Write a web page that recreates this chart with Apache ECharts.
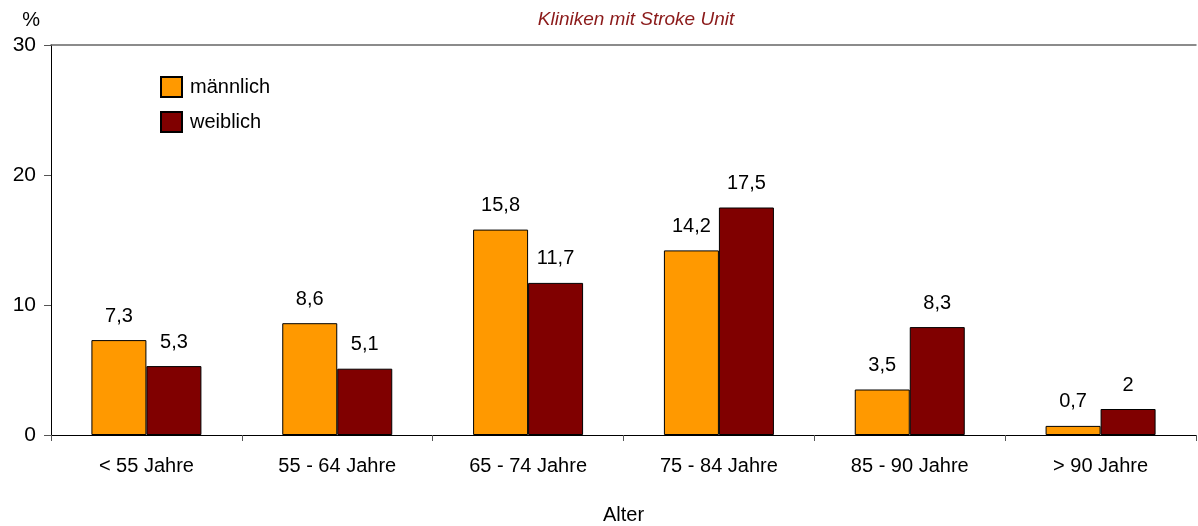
<!DOCTYPE html>
<html>
<head>
<meta charset="utf-8">
<script src="https://cdn.jsdelivr.net/npm/echarts@6/dist/echarts.min.js"></script>
<style>
  html, body { margin: 0; padding: 0; background: #fff; }
  #mychart { width: 1198px; height: 526px; }
</style>
</head>
<body>
<div id="mychart"></div>
<script>
// Daten
var categories = ['< 55 Jahre', '55 - 64 Jahre', '65 - 74 Jahre', '75 - 84 Jahre', '85 - 90 Jahre', '> 90 Jahre'];
var maennlich = [7.3, 8.6, 15.8, 14.2, 3.5, 0.7];
var weiblich = [5.3, 5.1, 11.7, 17.5, 8.3, 2];
var seriesNames = ['männlich', 'weiblich'];
var yTicks = [0, 10, 20, 30];

var fontFam = '"Liberation Sans", Arial, sans-serif';

function komma(p) {
  return String(p.value).replace('.', ',');
}

var myChart = echarts.init(document.getElementById('mychart'));
var option = {
  backgroundColor: '#fff',
  animation: false,
  textStyle: { fontFamily: fontFam },
  title: {
    text: 'Kliniken mit Stroke Unit',
    left: 631,
    textAlign: 'center',
    top: 5,
    textStyle: { color: '#8b1a1a', fontStyle: 'italic', fontWeight: 'normal', fontSize: 19, fontFamily: fontFam }
  },
  legend: {
    orient: 'vertical',
    left: 155,
    top: 71,
    itemWidth: 21,
    itemHeight: 20,
    itemGap: 13,
    icon: 'rect',
    textStyle: { fontSize: 20, color: '#000', fontFamily: fontFam, padding: [0, 0, 0, 3] },
    data: seriesNames
  },
  grid: { left: 51, right: 2, top: 45, bottom: 91, outerBoundsMode: 'none', containLabel: false },
  xAxis: [
    {
      type: 'category',
      data: categories,
      name: 'Alter',
      nameLocation: 'middle',
      nameGap: 70,
      nameTextStyle: { fontSize: 20, color: '#000' },
      axisLine: { lineStyle: { color: '#000', width: 1 } },
      axisTick: { show: true, length: 6, lineStyle: { color: '#555' } },
      axisLabel: { fontSize: 20, color: '#000', margin: 21 }
    },
    {
      type: 'category',
      data: categories,
      position: 'top',
      axisLine: { show: true, lineStyle: { color: '#666', width: 1.5 } },
      axisTick: { show: false },
      axisLabel: { show: false }
    }
  ],
  yAxis: {
    type: 'value',
    min: yTicks[0],
    max: yTicks[yTicks.length - 1],
    interval: 10,
    name: '%',
    nameLocation: 'end',
    nameGap: 15,
    nameTextStyle: { fontSize: 20, color: '#000', align: 'right', padding: [0, 11, 0, 0] },
    axisLine: { show: true, lineStyle: { color: '#000', width: 1 } },
    axisTick: { show: true, length: 7, lineStyle: { color: '#555' } },
    axisLabel: { fontSize: 21, color: '#000', margin: 15 },
    splitLine: { show: false }
  },
  series: [
    {
      name: seriesNames[0],
      type: 'bar',
      data: maennlich,
      barWidth: 55,
      barGap: '0%',
      itemStyle: { color: '#ff9900', borderColor: '#000', borderWidth: 1 },
      label: { show: true, position: 'top', distance: 14, fontSize: 20, color: '#000', formatter: komma }
    },
    {
      name: seriesNames[1],
      type: 'bar',
      data: weiblich,
      barWidth: 55,
      barGap: '0%',
      itemStyle: { color: '#800000', borderColor: '#000', borderWidth: 1 },
      label: { show: true, position: 'top', distance: 14, fontSize: 20, color: '#000', formatter: komma }
    }
  ]
};
myChart.setOption(option);
</script>
</body>
</html>
